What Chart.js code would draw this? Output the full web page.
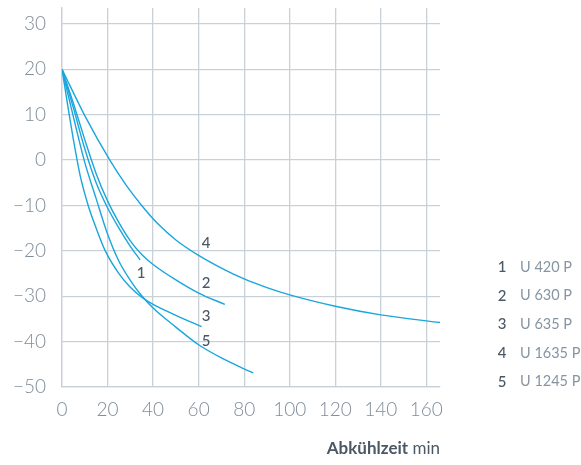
<!DOCTYPE html>
<html>
<head>
<meta charset="utf-8">
<script src="https://cdn.jsdelivr.net/npm/chart.js@4"></script>
<style>
  html, body { margin: 0; padding: 0; background: #fff; }
  #wrap { position: relative; width: 581px; height: 465px; }
</style>
</head>
<body>
<div id="wrap"><canvas id="abk" width="581" height="465"></canvas></div>
<script>
  // Abkühlkurven — Temperatur (°C) über Abkühlzeit (min)
  const serien = ['U 420 P', 'U 630 P', 'U 635 P', 'U 1635 P', 'U 1245 P'];
  const nummern = ['1', '2', '3', '4', '5'];

  const tU420  = [0, 5, 10, 15, 20, 25, 30, 34.3];
  const yU420  = [20, 11.5, 2.5, -5, -10.5, -15, -19, -22];

  const tU630  = [0, 5, 10, 15, 20, 25, 30, 35, 40, 50, 60, 71.5];
  const yU630  = [20, 12.5, 4.5, -3, -9, -13.8, -17.8, -20.8, -23, -26.4, -29.3, -31.8];

  const tU635  = [0, 3, 5, 8, 11.5, 15, 19, 25, 30, 35, 40, 50, 61.3];
  const yU635  = [20, 10.5, 4.5, -3.5, -10, -15, -20, -25, -28, -30.2, -31.8, -34.2, -36.7];

  const tU1635 = [0, 10, 21, 28, 35, 42, 50, 60, 70, 80, 90, 100, 120, 140, 166];
  const yU1635 = [20, 9.8, 0, -5.4, -10, -14, -17.6, -21, -23.8, -26.2, -28.1, -29.7, -32.2, -34.1, -35.8];

  const tU1245 = [0, 5, 10, 15, 20, 25, 30, 35, 40, 50, 60, 70, 80, 84];
  const yU1245 = [20, 9.5, -0.5, -8.5, -16.3, -22.3, -26.5, -29.9, -32.6, -36.8, -40.7, -43.6, -46, -46.9];

  // Beschriftung der Kurven (Datenkoordinaten)
  const lblX = [34.7, 63.3, 63.3, 63.3, 63.3];
  const lblY = [-25, -27.1, -34.5, -18.3, -39.9];

  const xTicks = [0, 20, 40, 60, 80, 100, 120, 140, 160];
  const yTicks = [-50, -40, -30, -20, -10, 0, 10, 20, 30];

  const BLAU = '#1aa6dd';
  const GRID = '#c9d1d8';
  const INK = '#4a5865';
  const GRAU = '#8795a1';
  const FONT = 'Lato, "Open Sans", sans-serif';

  const zeiten = [tU420, tU630, tU635, tU1635, tU1245];
  const werte  = [yU420, yU630, yU635, yU1635, yU1245];

  const datasets = serien.map((name, i) => ({
    label: name,
    data: zeiten[i].map((t, k) => ({ x: t, y: werte[i][k] })),
    showLine: true,
    borderColor: BLAU,
    borderWidth: 1.4,
    pointRadius: 0,
    cubicInterpolationMode: 'monotone',
    fill: false,
  }));

  const minus = v => (v < 0 ? '\u2212' + Math.abs(v) : String(v));

  const beschriftung = {
    id: 'beschriftung',
    afterDraw(chart) {
      const ctx = chart.ctx;
      const sx = chart.scales.x, sy = chart.scales.y;
      ctx.save();
      ctx.textBaseline = 'middle';

      // Nummern an den Kurven
      ctx.fillStyle = INK;
      ctx.font = '500 15px ' + FONT;
      ctx.textAlign = 'center';
      nummern.forEach((n, i) => {
        ctx.fillText(n, sx.getPixelForValue(lblX[i]), sy.getPixelForValue(lblY[i]));
      });

      // Legende rechts
      const lx = chart.chartArea.right + 62;
      let ly = 267;
      nummern.forEach((n, i) => {
        ctx.textAlign = 'center';
        ctx.fillStyle = INK;
        ctx.font = '500 15px ' + FONT;
        ctx.fillText(n, lx, ly);
        ctx.textAlign = 'left';
        ctx.fillStyle = GRAU;
        ctx.font = '14.5px ' + FONT;
        ctx.fillText(serien[i], lx + 18, ly);
        ly += 28.7;
      });

      // Achsentitel
      const right = chart.chartArea.right;
      ctx.textAlign = 'right';
      ctx.textBaseline = 'alphabetic';
      ctx.font = '17px ' + FONT;
      ctx.fillStyle = INK;
      const einheit = ' min';
      ctx.fillText(einheit, right, 454);
      const w = ctx.measureText(einheit).width;
      ctx.font = 'bold 17px ' + FONT;
      ctx.fillText('Abkühlzeit', right - w, 454);
      ctx.restore();
    }
  };

  const ohnePadding = s => {
    s.paddingTop = 0; s.paddingBottom = 0; s.paddingLeft = 0; s.paddingRight = 0;
  };

  new Chart(document.getElementById('abk'), {
    type: 'scatter',
    data: { datasets },
    options: {
      responsive: false,
      animation: false,
      layout: { padding: { top: 8, right: 141, left: 0, bottom: 0 } },
      plugins: { legend: { display: false }, tooltip: { enabled: false } },
      scales: {
        x: {
          type: 'linear',
          min: 0, max: 166,
          afterBuildTicks: s => { s.ticks = xTicks.map(v => ({ value: v })); },
          afterFit: s => { s.height = 78; ohnePadding(s); },
          ticks: { color: '#7f8d98', font: { family: FONT, size: 19, weight: 300 }, padding: 11, maxRotation: 0 },
          grid: { color: GRID, lineWidth: 1.3, drawTicks: false },
          border: { color: GRID, width: 1.3 },
        },
        y: {
          type: 'linear',
          min: -50, max: 33.5,
          afterBuildTicks: s => { s.ticks = yTicks.map(v => ({ value: v })); },
          afterFit: s => { s.width = 62; ohnePadding(s); },
          ticks: { color: '#7f8d98', font: { family: FONT, size: 19, weight: 300 }, padding: 16, callback: minus },
          grid: { color: GRID, lineWidth: 1.3, drawTicks: false },
          border: { color: GRID, width: 1.3 },
        },
      },
    },
    plugins: [beschriftung],
  });
</script>
</body>
</html>
